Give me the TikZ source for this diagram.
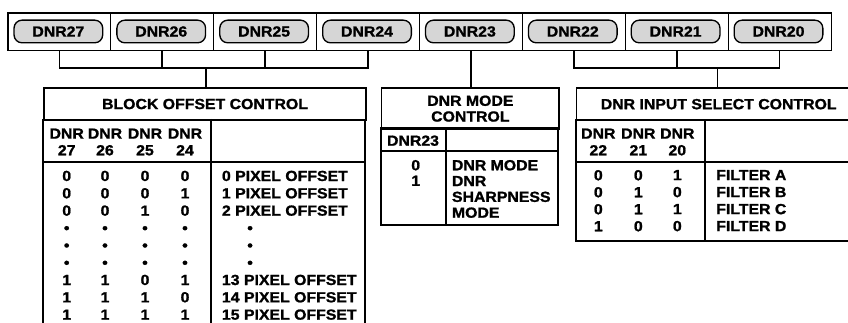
\documentclass[tikz,border=0pt]{standalone}
\usepackage{fontspec}
\setmainfont[FakeStretch=1.08, BoldFeatures={FakeBold=1.2}]{Liberation Sans}
\definecolor{pillgray}{gray}{0.84}

\tikzset{
  cell/.style={draw, line width=0.7pt, minimum width=77.15pt, minimum height=27.75pt, inner sep=0pt},
  pill/.style={draw, line width=1pt, fill=pillgray, rounded corners=6pt,
               minimum width=66.5pt, minimum height=17pt, inner sep=0pt},
  conn/.style={line width=1.3pt},
  tab/.style={line width=1.3pt},
  head/.style={draw, tab, anchor=north west, inner sep=0pt, align=center},
  lead/.style={font=\bfseries\fontsize{11}{#1}\selectfont},
  col/.style={anchor=north, inner sep=0pt, align=center},
  txt/.style={anchor=north west, inner sep=0pt, align=left},
}

\begin{document}
\begin{tikzpicture}[x=0.75pt, y=-0.75pt, lead=12.5pt]
\useasboundingbox (0,0) rectangle (848,323);

% Registerleiste mit den acht Bits
\foreach \b [count=\i from 0] in {27,26,25,24,23,22,21,20} {
  \node[cell] (c\b) at ({8+102.875*(\i+0.5)},31.5) {};
  \node[pill] (p\b) at ([xshift=-0.8pt]c\b) {DNR\b};
}
\draw[line width=1.2pt] (c27.north west) rectangle (c20.south east);

% Tabellenkoepfe
\node[head, minimum width=241.3pt, minimum height=23.8pt] (blkhead) at (43.3,87.3) {BLOCK OFFSET CONTROL};
\node[head, minimum width=133.2pt, minimum height=30.75pt, lead=11.8pt] (modehead) at (380.7,87.3) {DNR MODE\\CONTROL};
\node[head, minimum width=213.2pt, minimum height=24pt] (inhead) at (575.7,87.3) {DNR INPUT SELECT CONTROL};

% Klammern von den Bits zu den Tabellen
\coordinate (blkjoin) at (205.7,68.3);
\coordinate (injoin) at (717.5,68.3);
\draw[conn] (c27.south) |- (blkjoin) -| (c24.south);
\draw[conn] (c26.south) -- (c26.south |- blkjoin);
\draw[conn] (c25.south) -- (c25.south |- blkjoin);
\draw[conn] (blkjoin) -- (blkjoin |- blkhead.north);
\draw[conn] (c23.south) -- (c23.south |- modehead.north);
\draw[conn] (c22.south) |- (injoin) -| (c20.south);
\draw[conn] (c21.south) -- (c21.south |- injoin);
\draw[conn] (injoin) -- (injoin |- inhead.north);

% Tabellenlinien
\draw[tab] (43.3,119) -- (43.3,330) (365,119) -- (365,330) (210.7,119) -- (210.7,330)
           (43.3,161.7) -- (365,161.7);
\draw[tab] (380.7,128.3) rectangle (558.3,225) (380.7,151) -- (558.3,151) (445.7,128.3) -- (445.7,225);
\draw[tab] (575.7,119.3) -- (575.7,240.7) -- (860,240.7) (575.7,161.7) -- (860,161.7)
           (705,119.3) -- (705,240.7);

% Block Offset Control
\node[col] (bh27) at (66.7,128.3) {DNR\\27};
\node[col] (bh26) at (105,128.3) {DNR\\26};
\node[col] (bh25) at (145,128.3) {DNR\\25};
\node[col] (bh24) at (185,128.3) {DNR\\24};
\node[col, lead=13pt] (b27) at (66.7,170.5) {0\\0\\0\\•\\•\\•\\1\\1\\1};
\node[col, lead=13pt] (b26) at (105,170.5) {0\\0\\0\\•\\•\\•\\1\\1\\1};
\node[col, lead=13pt] (b25) at (145,170.5) {0\\0\\1\\•\\•\\•\\0\\1\\1};
\node[col, lead=13pt] (b24) at (185,170.5) {0\\1\\0\\•\\•\\•\\1\\0\\1};
\node[txt, lead=13pt] (boff) at (221.7,170.5) {0 PIXEL OFFSET\\1 PIXEL OFFSET\\2 PIXEL OFFSET\\
  \hspace*{19pt}•\\\hspace*{19pt}•\\\hspace*{19pt}•\\
  13 PIXEL OFFSET\\14 PIXEL OFFSET\\15 PIXEL OFFSET};

% DNR Mode Control
\node[inner sep=0pt] (m23) at (413,140.7) {DNR23};
\node[col, lead=11.6pt] (mval) at (415.7,159.8) {0\\1};
\node[txt, lead=11.85pt] (mtext) at (451.7,159.8) {DNR MODE\\DNR\\SHARPNESS\\MODE};

% DNR Input Select Control
\node[col] (ih22) at (598.3,128.3) {DNR\\22};
\node[col] (ih21) at (638.3,128.3) {DNR\\21};
\node[col] (ih20) at (677.3,128.3) {DNR\\20};
\node[col, lead=12.75pt] (i22) at (598.3,169.8) {0\\0\\0\\1};
\node[col, lead=12.75pt] (i21) at (638.3,169.8) {0\\1\\1\\0};
\node[col, lead=12.75pt] (i20) at (677.3,169.8) {1\\0\\1\\0};
\node[txt, lead=12.75pt] (ifilt) at (716,169.8) {FILTER A\\FILTER B\\FILTER C\\FILTER D};

\end{tikzpicture}
\end{document}
